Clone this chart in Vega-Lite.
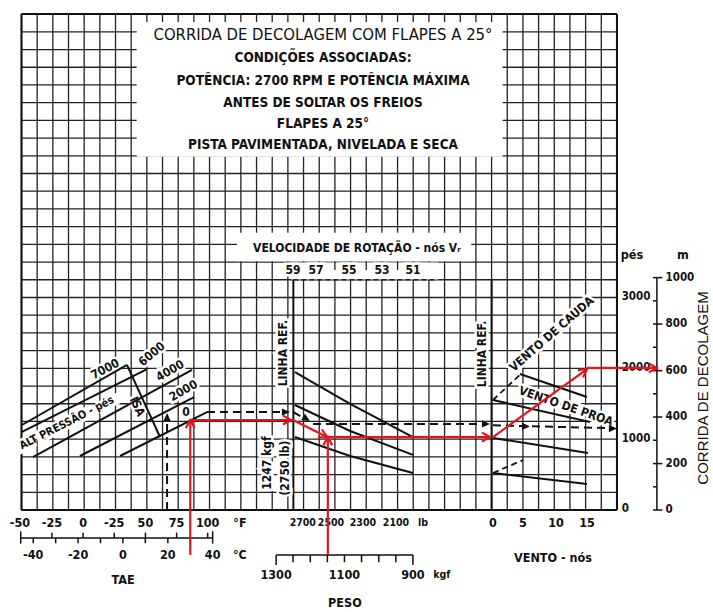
{
"$schema": "https://vega.github.io/schema/vega-lite/v6.json",
"width": 713, "height": 612,
"autosize": {"type": "fit", "contains": "padding"},
"padding": 0,
"background": "white",
"config": {"view": {"stroke": null}},
"datasets": {
"seg": [
{"x":0,"y":0,"x2":0,"y2":28,"k":"g"},{"x":1,"y":0,"x2":1,"y2":28,"k":"g"},{"x":2,"y":0,"x2":2,"y2":28,"k":"g"},{"x":3,"y":0,"x2":3,"y2":28,"k":"g"},{"x":4,"y":0,"x2":4,"y2":28,"k":"g"},{"x":5,"y":0,"x2":5,"y2":28,"k":"g"},{"x":6,"y":0,"x2":6,"y2":28,"k":"g"},{"x":7,"y":0,"x2":7,"y2":28,"k":"g"},{"x":8,"y":0,"x2":8,"y2":28,"k":"g"},{"x":9,"y":0,"x2":9,"y2":28,"k":"g"},
{"x":10,"y":0,"x2":10,"y2":28,"k":"g"},{"x":11,"y":0,"x2":11,"y2":28,"k":"g"},{"x":12,"y":0,"x2":12,"y2":28,"k":"g"},{"x":13,"y":0,"x2":13,"y2":28,"k":"g"},{"x":14,"y":0,"x2":14,"y2":28,"k":"g"},{"x":15,"y":0,"x2":15,"y2":28,"k":"g"},{"x":16,"y":0,"x2":16,"y2":28,"k":"g"},{"x":17,"y":0,"x2":17,"y2":28,"k":"g"},{"x":18,"y":0,"x2":18,"y2":28,"k":"g"},{"x":19,"y":0,"x2":19,"y2":28,"k":"g"},
{"x":20,"y":0,"x2":20,"y2":28,"k":"g"},{"x":21,"y":0,"x2":21,"y2":28,"k":"g"},{"x":22,"y":0,"x2":22,"y2":28,"k":"g"},{"x":23,"y":0,"x2":23,"y2":28,"k":"g"},{"x":24,"y":0,"x2":24,"y2":28,"k":"g"},{"x":25,"y":0,"x2":25,"y2":28,"k":"g"},{"x":26,"y":0,"x2":26,"y2":28,"k":"g"},{"x":27,"y":0,"x2":27,"y2":28,"k":"g"},{"x":28,"y":0,"x2":28,"y2":28,"k":"g"},{"x":29,"y":0,"x2":29,"y2":28,"k":"g"},
{"x":30,"y":0,"x2":30,"y2":28,"k":"g"},{"x":31,"y":0,"x2":31,"y2":28,"k":"g"},{"x":32,"y":0,"x2":32,"y2":28,"k":"g"},{"x":33,"y":0,"x2":33,"y2":28,"k":"g"},{"x":34,"y":0,"x2":34,"y2":28,"k":"g"},{"x":35,"y":0,"x2":35,"y2":28,"k":"g"},{"x":36,"y":0,"x2":36,"y2":28,"k":"g"},{"x":37,"y":0,"x2":37,"y2":28,"k":"g"},{"x":38,"y":0,"x2":38,"y2":28,"k":"g"},
{"x":0,"y":0,"x2":38,"y2":0,"k":"g"},{"x":0,"y":1,"x2":38,"y2":1,"k":"g"},{"x":0,"y":2,"x2":38,"y2":2,"k":"g"},{"x":0,"y":3,"x2":38,"y2":3,"k":"g"},{"x":0,"y":4,"x2":38,"y2":4,"k":"g"},{"x":0,"y":5,"x2":38,"y2":5,"k":"g"},{"x":0,"y":6,"x2":38,"y2":6,"k":"g"},{"x":0,"y":7,"x2":38,"y2":7,"k":"g"},{"x":0,"y":8,"x2":38,"y2":8,"k":"g"},{"x":0,"y":9,"x2":38,"y2":9,"k":"g"},
{"x":0,"y":10,"x2":38,"y2":10,"k":"g"},{"x":0,"y":11,"x2":38,"y2":11,"k":"g"},{"x":0,"y":12,"x2":38,"y2":12,"k":"g"},{"x":0,"y":13,"x2":38,"y2":13,"k":"g"},{"x":0,"y":14,"x2":38,"y2":14,"k":"g"},{"x":0,"y":15,"x2":38,"y2":15,"k":"g"},{"x":0,"y":16,"x2":38,"y2":16,"k":"g"},{"x":0,"y":17,"x2":38,"y2":17,"k":"g"},{"x":0,"y":18,"x2":38,"y2":18,"k":"g"},{"x":0,"y":19,"x2":38,"y2":19,"k":"g"},
{"x":0,"y":20,"x2":38,"y2":20,"k":"g"},{"x":0,"y":21,"x2":38,"y2":21,"k":"g"},{"x":0,"y":22,"x2":38,"y2":22,"k":"g"},{"x":0,"y":23,"x2":38,"y2":23,"k":"g"},{"x":0,"y":24,"x2":38,"y2":24,"k":"g"},{"x":0,"y":25,"x2":38,"y2":25,"k":"g"},{"x":0,"y":26,"x2":38,"y2":26,"k":"g"},{"x":0,"y":27,"x2":38,"y2":27,"k":"g"},{"x":0,"y":28,"x2":38,"y2":28,"k":"g"},
{"x":20,"y":13.55,"x2":20,"y2":14,"k":"t"},{"x":22,"y":13.55,"x2":22,"y2":14,"k":"t"},{"x":24,"y":13.55,"x2":24,"y2":14,"k":"t"},
{"x":17.35,"y":13.0,"x2":26.4,"y2":13.0,"k":"v"},
{"x":0,"y":0,"x2":0,"y2":28,"k":"b"},{"x":38,"y":0,"x2":38,"y2":28,"k":"b"},{"x":0,"y":28,"x2":38,"y2":28,"k":"b"},{"x":0,"y":0,"x2":38,"y2":0,"k":"b"},
{"x":17.35,"y":0,"x2":17.35,"y2":13.0,"k":"b"},{"x":30,"y":0,"x2":30,"y2":13.0,"k":"b"},
{"x":-0.05,"y":-1.58,"x2":12.2,"y2":-1.58,"k":"s"},
{"x":-0.05,"y":-1.9,"x2":-0.05,"y2":-1.2,"k":"s"},{"x":12.2,"y":-1.9,"x2":12.2,"y2":-1.2,"k":"s"},
{"x":1.94,"y":-1.58,"x2":1.94,"y2":-1.28,"k":"s"},{"x":3.93,"y":-1.58,"x2":3.93,"y2":-1.28,"k":"s"},{"x":5.92,"y":-1.58,"x2":5.92,"y2":-1.28,"k":"s"},{"x":7.91,"y":-1.58,"x2":7.91,"y2":-1.28,"k":"s"},{"x":9.9,"y":-1.58,"x2":9.9,"y2":-1.28,"k":"s"},{"x":11.88,"y":-1.58,"x2":11.88,"y2":-1.28,"k":"s"},
{"x":0.75,"y":-1.58,"x2":0.75,"y2":-1.88,"k":"s"},{"x":2.18,"y":-1.58,"x2":2.18,"y2":-1.88,"k":"s"},{"x":3.61,"y":-1.58,"x2":3.61,"y2":-1.88,"k":"s"},{"x":5.04,"y":-1.58,"x2":5.04,"y2":-1.88,"k":"s"},{"x":6.47,"y":-1.58,"x2":6.47,"y2":-1.88,"k":"s"},{"x":7.9,"y":-1.58,"x2":7.9,"y2":-1.88,"k":"s"},{"x":9.34,"y":-1.58,"x2":9.34,"y2":-1.88,"k":"s"},{"x":10.77,"y":-1.58,"x2":10.77,"y2":-1.88,"k":"s"},
{"x":16.25,"y":-2.54,"x2":24.98,"y2":-2.54,"k":"s"},
{"x":16.25,"y":-2.54,"x2":16.25,"y2":-3.1,"k":"s"},{"x":24.98,"y":-2.54,"x2":24.98,"y2":-3.1,"k":"s"},
{"x":17.33,"y":-2.54,"x2":17.33,"y2":-2.95,"k":"s"},{"x":18.43,"y":-2.54,"x2":18.43,"y2":-2.95,"k":"s"},{"x":19.52,"y":-2.54,"x2":19.52,"y2":-2.95,"k":"s"},{"x":20.61,"y":-2.54,"x2":20.61,"y2":-2.95,"k":"s"},{"x":21.7,"y":-2.54,"x2":21.7,"y2":-2.95,"k":"s"},{"x":22.8,"y":-2.54,"x2":22.8,"y2":-2.95,"k":"s"},{"x":23.89,"y":-2.54,"x2":23.89,"y2":-2.95,"k":"s"},
{"x":40.55,"y":0,"x2":40.55,"y2":13.12,"k":"s"},
{"x":40.3,"y":0,"x2":40.9,"y2":0,"k":"s"},{"x":40.3,"y":2.62,"x2":40.9,"y2":2.62,"k":"s"},{"x":40.3,"y":5.25,"x2":40.9,"y2":5.25,"k":"s"},{"x":40.3,"y":7.87,"x2":40.9,"y2":7.87,"k":"s"},{"x":40.3,"y":10.5,"x2":40.9,"y2":10.5,"k":"s"},{"x":40.3,"y":13.12,"x2":40.9,"y2":13.12,"k":"s"},
{"x":40.3,"y":1.31,"x2":40.55,"y2":1.31,"k":"s"},{"x":40.3,"y":3.94,"x2":40.55,"y2":3.94,"k":"s"},{"x":40.3,"y":6.56,"x2":40.55,"y2":6.56,"k":"s"},{"x":40.3,"y":9.19,"x2":40.55,"y2":9.19,"k":"s"},{"x":40.3,"y":11.81,"x2":40.55,"y2":11.81,"k":"s"},
{"x":0.03,"y":4.8,"x2":6.73,"y2":8.19,"k":"c"},
{"x":0.03,"y":4.41,"x2":8.01,"y2":7.96,"k":"c"},
{"x":0.73,"y":2.99,"x2":10.88,"y2":7.91,"k":"c"},
{"x":3.73,"y":3.05,"x2":11.01,"y2":6.38,"k":"c"},
{"x":6.29,"y":3.05,"x2":11.84,"y2":5.53,"k":"c"},
{"x":6.73,"y":8.19,"x2":8.84,"y2":4.12,"k":"c"},
{"x":17.45,"y":7.79,"x2":20.97,"y2":5.99,"k":"c"},{"x":20.97,"y":5.99,"x2":24.98,"y2":4.12,"k":"c"},
{"x":17.45,"y":5.93,"x2":20.97,"y2":4.46,"k":"c"},{"x":20.97,"y":4.46,"x2":24.98,"y2":3.11,"k":"c"},
{"x":17.45,"y":4.12,"x2":20.97,"y2":3.05,"k":"c"},{"x":20.97,"y":3.05,"x2":24.98,"y2":2.09,"k":"c"},
{"x":31.81,"y":7.68,"x2":36.09,"y2":6.38,"k":"c"},
{"x":30.09,"y":6.21,"x2":36.27,"y2":4.97,"k":"c"},
{"x":30.09,"y":4.07,"x2":36.15,"y2":3.22,"k":"c"},
{"x":30.09,"y":2.09,"x2":36.09,"y2":1.47,"k":"c"},
{"x":30.09,"y":6.21,"x2":31.94,"y2":7.74,"k":"e"},
{"x":30.09,"y":2.09,"x2":32.0,"y2":2.82,"k":"e"},
{"x":9.29,"y":0,"x2":9.29,"y2":5.2,"k":"d"},
{"x":11.84,"y":5.53,"x2":16.9,"y2":5.53,"k":"d"},
{"x":17.35,"y":5.53,"x2":18.2,"y2":5.1,"k":"d"},
{"x":18.6,"y":4.86,"x2":29.6,"y2":4.86,"k":"d"},
{"x":30.09,"y":4.78,"x2":37.7,"y2":4.62,"k":"d"},
{"x":10.77,"y":-2.54,"x2":10.77,"y2":5.05,"k":"r"},
{"x":10.77,"y":5.08,"x2":17.13,"y2":5.08,"k":"r"},
{"x":17.33,"y":5.08,"x2":19.5,"y2":4.12,"k":"r"},
{"x":19.55,"y":-2.54,"x2":19.55,"y2":4.1,"k":"r"},
{"x":19.55,"y":4.12,"x2":29.9,"y2":4.12,"k":"r"},
{"x":30.09,"y":4.12,"x2":36.09,"y2":7.96,"k":"r"},
{"x":36.09,"y":8.02,"x2":40.55,"y2":8.02,"k":"r"}
],
"box": [
{"x":7.35,"x2":30.7,"y":19.95,"y2":27.55},
{"x":13.75,"x2":28.7,"y":14.04,"y2":15.65},
{"x":17.2,"x2":26.6,"y":13.02,"y2":13.97}
],
"arr": [
{"x":10.77,"y":5.08,"dir":270,"k":"r"},
{"x":17.2,"y":5.08,"dir":0,"k":"r"},
{"x":19.5,"y":4.12,"dir":27,"k":"r"},
{"x":19.55,"y":4.12,"dir":270,"k":"r"},
{"x":29.9,"y":4.12,"dir":0,"k":"r"},
{"x":36.09,"y":7.96,"dir":324,"k":"r"},
{"x":40.55,"y":8.02,"dir":0,"k":"r"},
{"x":9.29,"y":5.48,"dir":270,"k":"d"},
{"x":17.13,"y":5.53,"dir":0,"k":"d"},
{"x":18.41,"y":5.03,"dir":31,"k":"d"},
{"x":29.9,"y":4.86,"dir":0,"k":"d"},
{"x":32.45,"y":4.72,"dir":0,"k":"d"},
{"x":38.0,"y":4.6,"dir":0,"k":"d"}
],
"txt": [
{"x":19.24,"y":26.82,"t":"CORRIDA DE DECOLAGEM COM FLAPES A 25°","g":"t1","r":0},
{"x":19.24,"y":25.52,"t":"CONDIÇÕES ASSOCIADAS:","g":"t2","r":0},
{"x":19.24,"y":24.22,"t":"POTÊNCIA: 2700 RPM E POTÊNCIA MÁXIMA","g":"t2","r":0},
{"x":19.24,"y":22.98,"t":"ANTES DE SOLTAR OS FREIOS","g":"t2","r":0},
{"x":19.24,"y":21.8,"t":"FLAPES A 25°","g":"t2","r":0},
{"x":19.24,"y":20.61,"t":"PISTA PAVIMENTADA, NIVELADA E SECA","g":"t2","r":0},
{"x":21.4,"y":14.79,"t":"VELOCIDADE DE ROTAÇÃO - nós Vᵣ","g":"lab","r":0},
{"x":17.33,"y":13.55,"t":"59","g":"lab","r":0},
{"x":18.79,"y":13.55,"t":"57","g":"lab","r":0},
{"x":20.9,"y":13.55,"t":"55","g":"lab","r":0},
{"x":23.0,"y":13.55,"t":"53","g":"lab","r":0},
{"x":24.98,"y":13.55,"t":"51","g":"lab","r":0},
{"x":16.69,"y":8.86,"t":"LINHA REF.","g":"lab","r":270},
{"x":29.39,"y":8.81,"t":"LINHA REF.","g":"lab","r":270},
{"x":15.67,"y":2.65,"t":"1247 kgf","g":"lab","r":270},
{"x":16.82,"y":2.37,"t":"(2750 lb)","g":"lab","r":270},
{"x":5.33,"y":7.96,"t":"7000","g":"lab","r":332},
{"x":8.31,"y":8.81,"t":"6000","g":"lab","r":320},
{"x":9.48,"y":7.87,"t":"4000","g":"lab","r":330},
{"x":10.33,"y":6.74,"t":"2000","g":"lab","r":330},
{"x":10.5,"y":5.55,"t":"0","g":"lab","r":0},
{"x":7.4,"y":5.85,"t":"ISA","g":"lab","r":65},
{"x":2.9,"y":4.9,"t":"ALT PRESSÃO - pés","g":"lab2","r":333},
{"x":33.82,"y":9.94,"t":"VENTO DE CAUDA","g":"lab","r":319},
{"x":34.75,"y":5.87,"t":"VENTO DE PROA","g":"lab","r":19},
{"x":-0.1,"y":-0.73,"t":"-50","g":"ax","r":0},
{"x":1.94,"y":-0.73,"t":"-25","g":"ax","r":0},
{"x":3.93,"y":-0.73,"t":"0","g":"ax","r":0},
{"x":5.92,"y":-0.73,"t":"-25","g":"ax","r":0},
{"x":7.91,"y":-0.73,"t":"50","g":"ax","r":0},
{"x":9.9,"y":-0.73,"t":"75","g":"ax","r":0},
{"x":11.88,"y":-0.73,"t":"100","g":"ax","r":0},
{"x":13.94,"y":-0.73,"t":"°F","g":"ax","r":0},
{"x":0.75,"y":-2.54,"t":"-40","g":"ax","r":0},
{"x":3.61,"y":-2.54,"t":"-20","g":"ax","r":0},
{"x":6.47,"y":-2.54,"t":"0","g":"ax","r":0},
{"x":9.34,"y":-2.54,"t":"20","g":"ax","r":0},
{"x":12.2,"y":-2.54,"t":"40","g":"ax","r":0},
{"x":13.94,"y":-2.54,"t":"°C","g":"ax","r":0},
{"x":6.48,"y":-3.95,"t":"TAE","g":"ax","r":0},
{"x":17.95,"y":-0.73,"t":"2700","g":"axs","r":0},
{"x":19.75,"y":-0.73,"t":"2500","g":"axs","r":0},
{"x":21.79,"y":-0.73,"t":"2300","g":"axs","r":0},
{"x":23.9,"y":-0.73,"t":"2100","g":"axs","r":0},
{"x":25.62,"y":-0.73,"t":"lb","g":"axs","r":0},
{"x":16.25,"y":-3.67,"t":"1300","g":"ax","r":0},
{"x":20.61,"y":-3.67,"t":"1100","g":"ax","r":0},
{"x":24.98,"y":-3.67,"t":"900","g":"ax","r":0},
{"x":26.82,"y":-3.67,"t":"kgf","g":"axs","r":0},
{"x":20.64,"y":-5.25,"t":"PESO","g":"ax","r":0},
{"x":30.09,"y":-0.73,"t":"0","g":"ax","r":0},
{"x":32.0,"y":-0.73,"t":"5","g":"ax","r":0},
{"x":34.11,"y":-0.73,"t":"10","g":"ax","r":0},
{"x":36.09,"y":-0.73,"t":"15","g":"ax","r":0},
{"x":33.92,"y":-2.71,"t":"VENTO - nós","g":"ax","r":0},
{"x":38.96,"y":14.4,"t":"pés","g":"ax","r":0},
{"x":42.21,"y":14.4,"t":"m","g":"ax","r":0},
{"x":38.3,"y":0.05,"t":"0","g":"axL","r":0},
{"x":38.3,"y":4.0,"t":"1000","g":"axL","r":0},
{"x":38.3,"y":8.0,"t":"2000","g":"axL","r":0},
{"x":38.3,"y":12.0,"t":"3000","g":"axL","r":0},
{"x":41.1,"y":0,"t":"0","g":"axL","r":0},
{"x":41.1,"y":2.62,"t":"200","g":"axL","r":0},
{"x":41.1,"y":5.25,"t":"400","g":"axL","r":0},
{"x":41.1,"y":7.87,"t":"600","g":"axL","r":0},
{"x":41.1,"y":10.5,"t":"800","g":"axL","r":0},
{"x":41.1,"y":13.12,"t":"1000","g":"axL","r":0},
{"x":43.49,"y":6.89,"t":"CORRIDA DE DECOLAGEM","g":"big","r":270}
]
},
"encoding": {
"x": {"field":"x","type":"quantitative","scale":{"domain":[-1.372,44.13],"nice":false,"zero":false},"axis":null},
"y": {"field":"y","type":"quantitative","scale":{"domain":[-5.759,28.797],"nice":false,"zero":false},"axis":null}
},
"layer": [
{"data":{"name":"seg"},"transform":[{"filter":"datum.k==='g'"}],"mark":{"type":"rule","stroke":"#222","strokeWidth":1.3},"encoding":{"x2":{"field":"x2"},"y2":{"field":"y2"}}},
{"data":{"name":"box"},"mark":{"type":"rect","fill":"white"},"encoding":{"x2":{"field":"x2"},"y2":{"field":"y2"}}},
{"data":{"name":"seg"},"transform":[{"filter":"datum.k==='t'"}],"mark":{"type":"rule","stroke":"#222","strokeWidth":1.3},"encoding":{"x2":{"field":"x2"},"y2":{"field":"y2"}}},
{"data":{"name":"seg"},"transform":[{"filter":"datum.k==='v'"}],"mark":{"type":"rule","stroke":"#222","strokeWidth":1.5,"strokeDash":[5,3]},"encoding":{"x2":{"field":"x2"},"y2":{"field":"y2"}}},
{"data":{"name":"seg"},"transform":[{"filter":"datum.k==='b'"}],"mark":{"type":"rule","stroke":"#111","strokeWidth":2},"encoding":{"x2":{"field":"x2"},"y2":{"field":"y2"}}},
{"data":{"name":"seg"},"transform":[{"filter":"datum.k==='s'"}],"mark":{"type":"rule","stroke":"#111","strokeWidth":1.5},"encoding":{"x2":{"field":"x2"},"y2":{"field":"y2"}}},
{"data":{"name":"txt"},"transform":[{"filter":"datum.g==='lab' || datum.g==='lab2'"}],"mark":{"type":"text","font":"DejaVu Sans Condensed, sans-serif","fontSize":12,"fontWeight":"bold","color":"white","stroke":"white","strokeWidth":5,"baseline":"middle","align":"center"},"encoding":{"text":{"field":"t"},"angle":{"field":"r","type":"quantitative","scale":null}}},
{"data":{"name":"txt"},"transform":[{"filter":"datum.g==='lab'"}],"mark":{"type":"text","font":"DejaVu Sans Condensed, sans-serif","fontSize":12,"fontWeight":"bold","color":"#111","baseline":"middle","align":"center"},"encoding":{"text":{"field":"t"},"angle":{"field":"r","type":"quantitative","scale":null}}},
{"data":{"name":"txt"},"transform":[{"filter":"datum.g==='lab2'"}],"mark":{"type":"text","font":"DejaVu Sans Condensed, sans-serif","fontSize":11,"fontWeight":"bold","color":"#111","baseline":"middle","align":"center"},"encoding":{"text":{"field":"t"},"angle":{"field":"r","type":"quantitative","scale":null}}},
{"data":{"name":"txt"},"transform":[{"filter":"datum.g==='t1'"}],"mark":{"type":"text","font":"DejaVu Sans Condensed, sans-serif","fontSize":16.5,"color":"#111","baseline":"middle","align":"center"},"encoding":{"text":{"field":"t"}}},
{"data":{"name":"txt"},"transform":[{"filter":"datum.g==='t2'"}],"mark":{"type":"text","font":"DejaVu Sans Condensed, sans-serif","fontSize":13.5,"fontWeight":"bold","color":"#111","baseline":"middle","align":"center"},"encoding":{"text":{"field":"t"}}},
{"data":{"name":"txt"},"transform":[{"filter":"datum.g==='ax'"}],"mark":{"type":"text","font":"DejaVu Sans Condensed, sans-serif","fontSize":12.5,"fontWeight":"bold","color":"#111","baseline":"middle","align":"center"},"encoding":{"text":{"field":"t"}}},
{"data":{"name":"txt"},"transform":[{"filter":"datum.g==='axs'"}],"mark":{"type":"text","font":"DejaVu Sans Condensed, sans-serif","fontSize":10.5,"fontWeight":"bold","color":"#111","baseline":"middle","align":"center"},"encoding":{"text":{"field":"t"}}},
{"data":{"name":"txt"},"transform":[{"filter":"datum.g==='axL'"}],"mark":{"type":"text","font":"DejaVu Sans Condensed, sans-serif","fontSize":11.5,"fontWeight":"bold","color":"#111","baseline":"middle","align":"left"},"encoding":{"text":{"field":"t"}}},
{"data":{"name":"txt"},"transform":[{"filter":"datum.g==='big'"}],"mark":{"type":"text","font":"Liberation Sans, Arial, sans-serif","fontSize":15,"color":"#111","baseline":"middle","align":"center"},"encoding":{"text":{"field":"t"},"angle":{"field":"r","type":"quantitative","scale":null}}},
{"data":{"name":"seg"},"transform":[{"filter":"datum.k==='c'"}],"mark":{"type":"rule","stroke":"#111","strokeWidth":2},"encoding":{"x2":{"field":"x2"},"y2":{"field":"y2"}}},
{"data":{"name":"seg"},"transform":[{"filter":"datum.k==='e'"}],"mark":{"type":"rule","stroke":"#111","strokeWidth":1.8,"strokeDash":[6,4]},"encoding":{"x2":{"field":"x2"},"y2":{"field":"y2"}}},
{"data":{"name":"seg"},"transform":[{"filter":"datum.k==='d'"}],"mark":{"type":"rule","stroke":"#111","strokeWidth":2,"strokeDash":[8,5]},"encoding":{"x2":{"field":"x2"},"y2":{"field":"y2"}}},
{"data":{"name":"arr"},"transform":[{"filter":"datum.k==='d'"}],"mark":{"type":"point","shape":"M0,0L-1,-0.45L-1,0.45Z","filled":true,"color":"#111","opacity":1,"size":260},"encoding":{"angle":{"field":"dir","type":"quantitative","scale":null}}},
{"data":{"name":"seg"},"transform":[{"filter":"datum.k==='r'"}],"mark":{"type":"rule","stroke":"#e3161e","strokeWidth":2.2},"encoding":{"x2":{"field":"x2"},"y2":{"field":"y2"}}},
{"data":{"name":"arr"},"transform":[{"filter":"datum.k==='r'"}],"mark":{"type":"point","shape":"M-1,-0.55L0,0L-1,0.55","filled":false,"stroke":"#e3161e","strokeWidth":2.2,"opacity":1,"size":260},"encoding":{"angle":{"field":"dir","type":"quantitative","scale":null}}}
]
}
